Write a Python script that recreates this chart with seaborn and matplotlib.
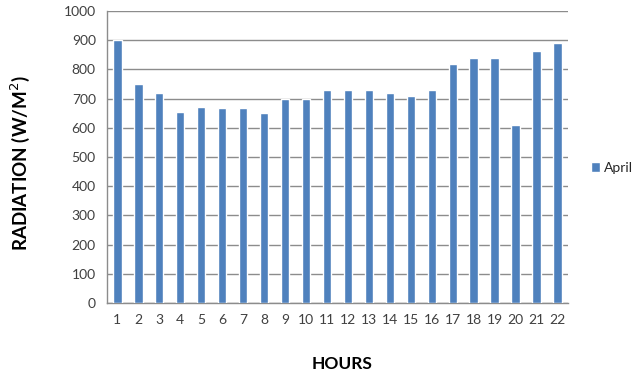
import matplotlib
matplotlib.use("Agg")
import matplotlib.pyplot as plt
import seaborn as sns
import pandas as pd
import numpy as np

hours = [str(h) for h in range(1, 23)]
april = [900, 750, 720, 655, 672, 668, 668, 650, 700, 700, 730,
         730, 730, 718, 710, 730, 818, 840, 840, 610, 864, 890]
y_ticks = [0, 100, 200, 300, 400, 500, 600, 700, 800, 900, 1000]

df = pd.DataFrame({"hour": hours, "radiation": april})

sns.set_style("white")
plt.rcParams["font.family"] = ["Lato", "DejaVu Sans"]

fig = plt.figure(figsize=(6.4, 3.76), dpi=100)
ax = fig.add_axes([0.167, 0.194, 0.7205, 0.777])

sns.barplot(data=df, x="hour", y="radiation", order=hours, color="#4F81BD",
            width=0.4, saturation=1, label="April", ax=ax, zorder=3)

ax.set_ylim(0, 1000)
ax.set_yticks(y_ticks)
ax.set_xlim(-0.5, len(hours) - 0.5)
ax.yaxis.grid(True, color="#8c8c8c", linewidth=1.0, zorder=0)
ax.set_axisbelow(True)

for side in ("top", "right"):
    ax.spines[side].set_visible(False)
for side in ("left", "bottom"):
    ax.spines[side].set_color("#8c8c8c")
    ax.spines[side].set_linewidth(1.0)

# tick marks sit between the categories, labels at the centres
ax.set_xticks(np.arange(-0.5, len(hours)), minor=True)
ax.tick_params(axis="x", which="minor", length=4, color="#8c8c8c", direction="out")
ax.tick_params(axis="x", which="major", length=0, pad=8, labelsize=10, labelcolor="#404040")
ax.tick_params(axis="y", which="major", length=4, color="#8c8c8c", direction="out",
               labelsize=10, labelcolor="#404040", pad=4)

ax.set_xlabel("HOURS", fontsize=12.5, fontweight="bold", color="black")
ax.xaxis.set_label_coords(0.51, -0.18)
ax.set_ylabel("RADIATION (W/M$^{2}$)", fontsize=13.5, fontweight="bold", color="black")
ax.yaxis.set_label_coords(-0.163, 0.48)

leg = ax.legend(loc="center left", bbox_to_anchor=(0.924, 0.553),
                bbox_transform=fig.transFigure, frameon=False, fontsize=10,
                handlelength=0.65, handleheight=0.75, handletextpad=0.25,
                borderaxespad=0, borderpad=0)
for t in leg.get_texts():
    t.set_color("#262626")

fig.savefig("out.png", dpi=100)
